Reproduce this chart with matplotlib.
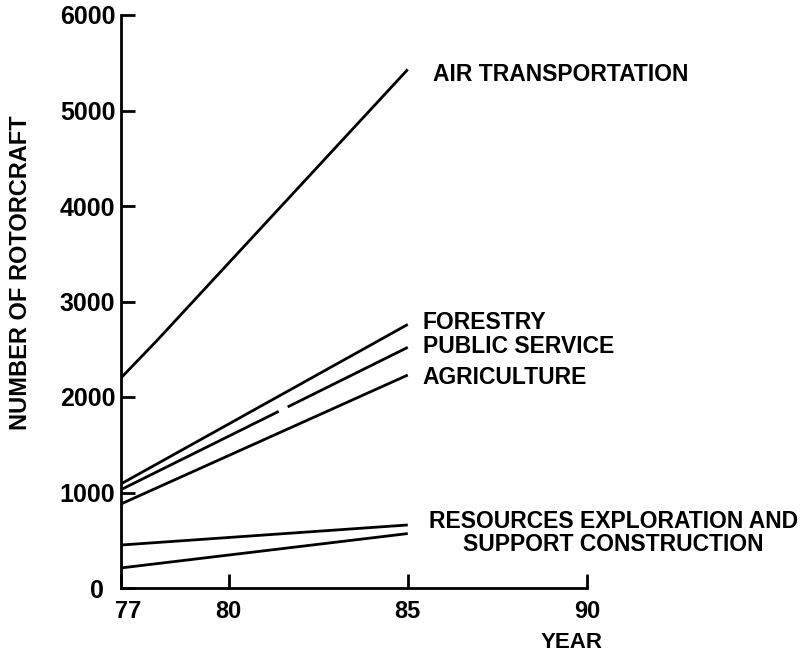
import numpy as np
import matplotlib
matplotlib.use("Agg")
import matplotlib.pyplot as plt
import matplotlib.transforms as mtransforms

plt.rcParams['font.family'] = ['Liberation Sans', 'DejaVu Sans']

# data (number of rotorcraft per market)
years = [77, 85]
years_air = [77, 78, 85]
air_transportation = [2200, 2590, 5430]
forestry = [1090, 2760]
public_service = [1030, 2520]
agriculture = [880, 2230]
resources_upper = [450, 660]
resources_lower = [210, 570]

x_ticks = [77, 80, 85, 90]
y_ticks = [0, 1000, 2000, 3000, 4000, 5000, 6000]

fig = plt.figure(figsize=(8.01, 6.55), dpi=100)
ax = fig.add_axes([121 / 801, 1 - 588 / 655, (587 - 121) / 801, (588 - 15) / 655])

lw = 2.0
ax.plot(years_air, air_transportation, color='black', lw=lw, solid_capstyle='butt')
ax.plot(years, forestry, color='black', lw=lw, solid_capstyle='butt')
# public service has a small break in the printed line
gap = [81.4, 81.65]
ps_gap = np.interp(gap, years, public_service)
ax.plot([years[0], gap[0]], [public_service[0], ps_gap[0]], color='black', lw=lw, solid_capstyle='butt')
ax.plot([gap[1], years[1]], [ps_gap[1], public_service[1]], color='black', lw=lw, solid_capstyle='butt')
ax.plot(years, agriculture, color='black', lw=lw, solid_capstyle='butt')
ax.plot(years, resources_upper, color='black', lw=lw, solid_capstyle='butt')
ax.plot(years, resources_lower, color='black', lw=lw, solid_capstyle='butt')

ax.set_xlim(77, 90)
ax.set_ylim(0, 6000)
ax.set_xticks(x_ticks)
ax.set_yticks(y_ticks)
ax.tick_params(axis='both', direction='in', length=10, width=2, pad=4)
ax.tick_params(axis='x', pad=9, labelsize=17)
ax.tick_params(axis='y', labelsize=18)
for t in ax.get_yticklabels():
    t.set_fontweight('bold')
for t in ax.get_xticklabels():
    t.set_fontweight('semibold')

# nudge the corner labels apart, as in the original
xl = ax.get_xticklabels()[0]
xl.set_transform(xl.get_transform() + mtransforms.ScaledTranslation(5 / 72, 0, fig.dpi_scale_trans))
yl = ax.get_yticklabels()[0]
yl.set_transform(yl.get_transform() + mtransforms.ScaledTranslation(-8 / 72, 0, fig.dpi_scale_trans))

for s in ['top', 'right']:
    ax.spines[s].set_visible(False)
for s in ['left', 'bottom']:
    ax.spines[s].set_linewidth(2)

# line labels
lab = dict(fontsize=16.5, fontweight='bold', va='center', clip_on=False)
ax.text(85.7, 5380, 'AIR TRANSPORTATION', ha='left', **lab)
ax.text(85.42, 2785, 'FORESTRY', ha='left', **lab)
ax.text(85.42, 2524, 'PUBLIC SERVICE', ha='left', **lab)
ax.text(85.42, 2199, 'AGRICULTURE', ha='left', **lab)
ax.text(90.74, 575, 'RESOURCES EXPLORATION AND\nSUPPORT CONSTRUCTION',
        ha='center', multialignment='center', linespacing=1.0, **lab)

fig.text(21 / 801, 1 - 273 / 655, 'NUMBER OF ROTORCRAFT', rotation=90,
         ha='center', va='center', fontsize=17, fontweight='bold')
fig.text(572 / 801, 1 - 642 / 655, 'YEAR', ha='center', va='center',
         fontsize=16, fontweight='bold')

fig.savefig('out.png', dpi=100)
